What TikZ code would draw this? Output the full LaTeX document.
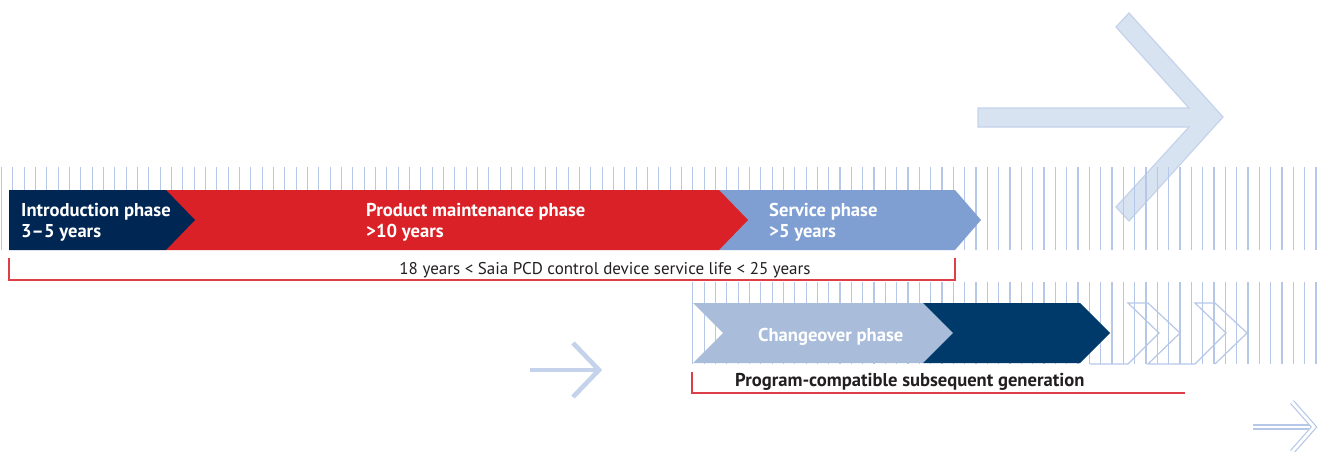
\documentclass[tikz,border=0pt]{standalone}
\usepackage{fontspec}
\setmainfont{PT Sans}
\definecolor{navyA}{RGB}{0,38,84}
\definecolor{redA}{RGB}{218,33,39}
\definecolor{blueS}{RGB}{127,159,211}
\definecolor{blueC}{RGB}{169,188,217}
\definecolor{navyB}{RGB}{0,58,107}
\definecolor{stripecol}{RGB}{182,199,232}
\definecolor{arrowfill}{RGB}{216,227,242}
\definecolor{arrowline}{RGB}{196,210,235}
\definecolor{bracketcol}{RGB}{222,62,72}
\definecolor{txt}{RGB}{35,31,32}
\begin{document}
\begin{tikzpicture}[x=1pt,y=-1pt,
  stripeline/.style={draw=stripecol,line width=1.3pt},
  phaselabel/.style={text=white,font=\bfseries\fontsize{18.6}{21}\selectfont,inner sep=0pt,anchor=base west},
  plainlabel/.style={text=txt,font=\fontsize{17}{20}\selectfont,inner sep=0pt,anchor=base},
  boldlabel/.style={text=txt,font=\bfseries\fontsize{18.6}{21}\selectfont,inner sep=0pt,anchor=base west},
  bracketline/.style={draw=bracketcol,line width=1.4pt},
  bigarrow/.style={fill=arrowfill,draw=arrowline,line width=1.2pt,line join=miter},
  thinarrow/.style={draw=arrowline,line width=4.6pt,line join=miter},
  outlinearrow/.style={draw=stripecol,line width=1.2pt,double=white,double distance=2.8pt,line join=miter}
]
\useasboundingbox (0,0) rectangle (1318,452);

% big light arrow (top right)
\path[bigarrow] (978,108) -- (1189,108) -- (1116,27) -- (1129,13) -- (1223,117)
  -- (1129,221) -- (1116,207) -- (1189,127) -- (978,127) -- cycle;

% stripe bands
\foreach \k in {0,...,116} {
  \draw[stripeline] ({1.5+11.333*\k},167) -- ++(0,83);
}
\foreach \k in {61,...,116} {
  \draw[stripeline] ({1.5+11.333*\k},282) -- ++(0,82);
}

% upper phases
\path[fill=blueS] (719,190) -- (955,190) -- (981,220) -- (955,250) -- (719,250) -- cycle;
\path[fill=redA] (166,190) -- (719,190) -- (748,220) -- (719,250) -- (166,250) -- cycle;
\path[fill=navyA] (9,190) -- (166,190) -- (195,220) -- (166,250) -- (9,250) -- cycle;

\node[phaselabel] (intro1) at (21,216) {Introduction phase};
\node[phaselabel] (intro2) at (21,237) {3–5 years};
\node[phaselabel] (maint1) at (366,216) {Product maintenance phase};
\node[phaselabel] (maint2) at (366,237) {>10 years};
\node[phaselabel] (serv1) at (769,216) {Service phase};
\node[phaselabel] (serv2) at (769,237) {>5 years};

% upper bracket
\coordinate (b1a) at (9,258);
\coordinate (b1b) at (955,258);
\draw[bracketline] (b1a) -- (b1a |- 0,280) -- (b1b |- 0,280) -- (b1b);
\node[plainlabel] (life) at (605,274) {18 years < Saia PCD control device service life < 25 years};

% lower phases
\path[fill=blueC] (693,303) -- (923,303) -- (953,333) -- (923,363) -- (693,363) -- (723,333) -- cycle;
\path[fill=navyB] (923,303) -- (1080,303) -- (1110,333) -- (1080,363) -- (923,363) -- (953,333) -- cycle;
\node[phaselabel] (change) at (758,341) {Changeover phase};

% outline chevrons
\draw[stripeline,line width=1.2pt,line join=miter] (1090,364) -- (1128,364) -- (1159,333) -- (1128,303) -- (1148,303)
  -- (1180,333) -- (1148,364) -- (1195,364) -- (1226,333) -- (1195,303) -- (1215,303)
  -- (1247,333) -- (1215,364);

% lower bracket
\coordinate (b2a) at (692,372);
\coordinate (b2b) at (1185,393);
\draw[bracketline] (b2a) -- (b2a |- b2b) -- (b2b);
\node[boldlabel] (prog) at (735,386) {Program-compatible subsequent generation};

% small arrow (middle)
\coordinate (sa0) at (530,370);
\coordinate (sa1) at (598,370);
\draw[thinarrow] (sa0) -- (sa1);
\draw[thinarrow] (573,343) -- (599,370) -- (573,397);

% outline arrow (bottom right)
\coordinate (oa0) at (1253,427);
\coordinate (oa1) at (1311,427);
\draw[outlinearrow] (oa0) -- (oa1);
\draw[outlinearrow] (1292,402) -- (1314,427) -- (1292,452);
\end{tikzpicture}
\end{document}
